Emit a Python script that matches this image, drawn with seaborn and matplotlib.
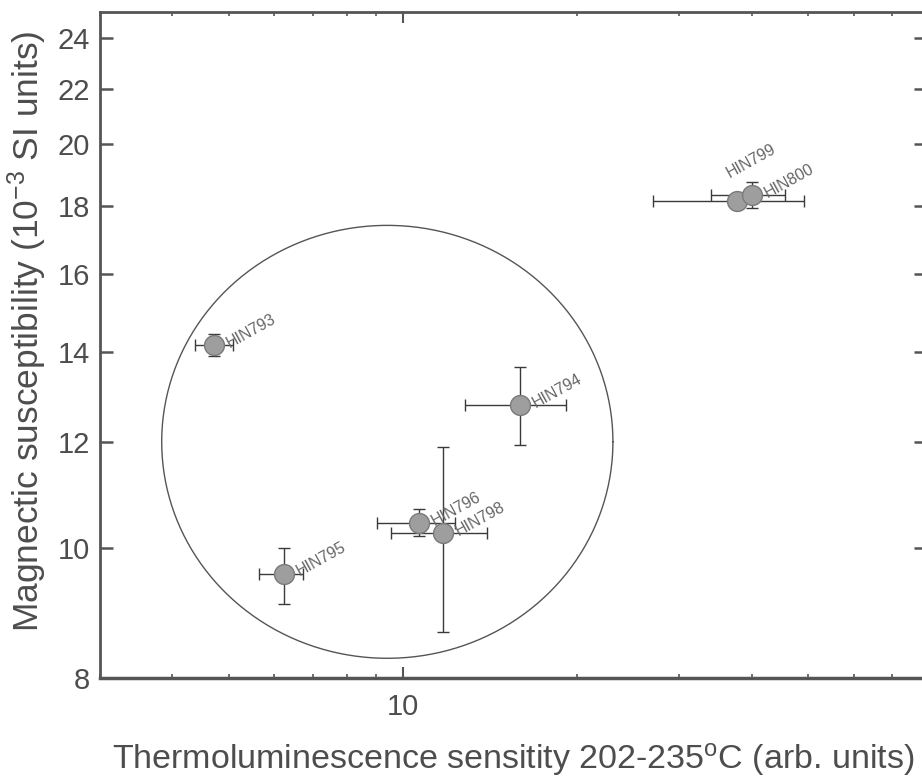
import numpy as np
import pandas as pd
import matplotlib
matplotlib.use("Agg")
import matplotlib.pyplot as plt
import seaborn as sns
from matplotlib.ticker import FixedLocator, NullFormatter, FuncFormatter, LogLocator, NullLocator

# ---- data ----
samples = ["HIN793", "HIN794", "HIN795", "HIN796", "HIN798", "HIN799", "HIN800"]
tl_sens = [4.72, 15.9, 6.23, 10.66, 11.72, 37.7, 40.1]
tl_low = [4.37, 12.8, 5.64, 9.02, 9.53, 27.0, 34.0]
tl_high = [5.08, 19.1, 6.72, 12.3, 13.97, 49.3, 45.7]
mag_sus = [14.17, 12.78, 9.57, 10.44, 10.26, 18.16, 18.33]
mag_low = [13.9, 11.94, 9.09, 10.21, 8.65, 17.96, 17.93]
mag_high = [14.45, 13.65, 10.0, 10.70, 11.89, 18.36, 18.76]
y_ticks = [8, 10, 12, 14, 16, 18, 20, 22, 24]
x_ticks = [10]

# group circle (centre in data units, radii in decades)
circle_cx, circle_cy = 9.40, 12.0
circle_rx, circle_ry = 0.3895, 0.1614

df = pd.DataFrame({"sample": samples, "tl": tl_sens, "ms": mag_sus})

sns.set_theme(style="ticks")
plt.rcParams["font.family"] = ["Liberation Sans", "DejaVu Sans"]
plt.rcParams["mathtext.fontset"] = "custom"
plt.rcParams["mathtext.rm"] = "Liberation Sans"
plt.rcParams["mathtext.it"] = "Liberation Sans"

gray = "#555555"
txt = "#4d4d4d"
fig = plt.figure(figsize=(9.22, 7.8), dpi=100)
ax = fig.add_axes([100 / 922, 1 - 678 / 780, 826 / 922, 666 / 780])
ax.set_xscale("log")
ax.set_yscale("log")
ax.set_xlim(3, 80)
ax.set_ylim(8, 25.1)

xerr = np.array([np.array(tl_sens) - np.array(tl_low), np.array(tl_high) - np.array(tl_sens)])
yerr = np.array([np.array(mag_sus) - np.array(mag_low), np.array(mag_high) - np.array(mag_sus)])
ax.errorbar(tl_sens, mag_sus, xerr=xerr, yerr=yerr, fmt="none", ecolor="#3a3a3a",
            elinewidth=1.0, capsize=4.3, capthick=1.0, zorder=2)
sns.scatterplot(data=df, x="tl", y="ms", ax=ax, s=205, color="#9e9e9e",
                edgecolor="#7a7a7a", linewidth=1.0, zorder=3, legend=False)

# labels
for name, xv, yv in zip(samples, tl_sens, mag_sus):
    if name == "HIN799":
        off = (-5, 16)
    else:
        off = (11.5, -2)
    ax.annotate(name, (xv, yv), xytext=off, textcoords="offset points",
                rotation=29, rotation_mode="anchor", ha="left", va="baseline",
                fontsize=11.5, color="#666666", zorder=4)

# group circle
t = np.linspace(0, 2 * np.pi, 500)
ax.plot(circle_cx * 10 ** (circle_rx * np.cos(t)), circle_cy * 10 ** (circle_ry * np.sin(t)),
        color=gray, lw=1.0, zorder=1)

# axes styling
for side in ["left", "right", "top", "bottom"]:
    ax.spines[side].set_color(gray)
    ax.spines[side].set_linewidth(2.0)
ax.spines["bottom"].set_linewidth(2.5)

ax.yaxis.set_major_locator(FixedLocator(y_ticks))
ax.yaxis.set_minor_locator(NullLocator())
ax.yaxis.set_major_formatter(FuncFormatter(lambda v, p: f"{v:g}"))
ax.xaxis.set_major_locator(FixedLocator(x_ticks))
ax.xaxis.set_minor_locator(LogLocator(base=10, subs=np.arange(2, 10), numticks=20))
ax.xaxis.set_major_formatter(FuncFormatter(lambda v, p: f"{v:g}"))
ax.xaxis.set_minor_formatter(NullFormatter())

ax.tick_params(axis="y", which="major", direction="in", length=9, width=1.8, color=gray,
               left=True, right=True, labelsize=21, labelcolor=txt, pad=7)
ax.tick_params(axis="x", which="major", direction="in", length=8, width=1.5, color=gray,
               bottom=True, top=True, labelsize=21, labelcolor=txt, pad=11)
ax.tick_params(axis="x", which="minor", direction="in", length=3, width=1.2, color=gray,
               bottom=True, top=True)

ax.set_xlabel("Thermoluminescence sensitity 202-235$^{\\mathrm{o}}$C (arb. units)",
              fontsize=24.5, color=txt)
ax.set_ylabel("Magnectic susceptibility (10$^{-3}$ SI units)", fontsize=25.5, color=txt)
ax.xaxis.set_label_coords(0.5, -0.094)
ax.yaxis.set_label_coords(-0.062, 0.521)

fig.savefig("out.png", dpi=100)
